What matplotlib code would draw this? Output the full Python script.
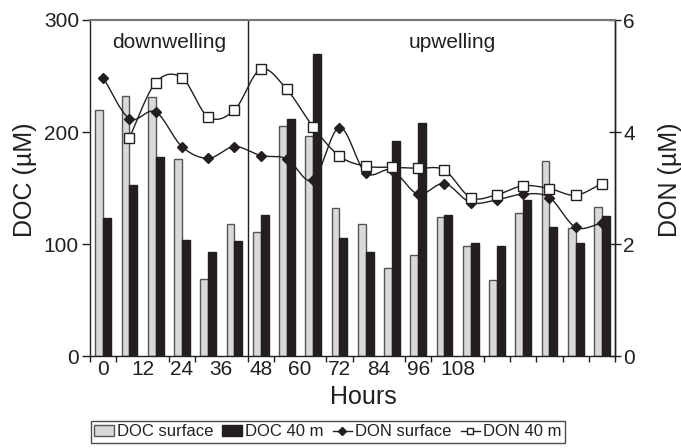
import numpy as np
import matplotlib
matplotlib.use("Agg")
import matplotlib.pyplot as plt
from matplotlib.lines import Line2D
from matplotlib.patches import Patch

hours = [0, 6, 12, 18, 24, 30, 36, 42, 48, 54, 60, 66, 72, 78, 84, 90, 96, 102, 108, 114]
doc_surface = [220, 232, 231, 176, 69, 118, 111, 205, 196, 132, 118, 79, 90, 124, 98, 68, 128, 174, 114, 133]
doc_40m = [123, 153, 178, 104, 93, 103, 126, 212, 270, 105, 93, 192, 208, 126, 101, 98, 139, 115, 101, 125]
don_surface = [4.97, 4.24, 4.36, 3.74, 3.53, 3.74, 3.58, 3.52, 3.14, 4.08, 3.27, 3.32, 2.89, 3.08, 2.74, 2.79, 2.89, 2.83, 2.30, 2.37]
don_40m = [np.nan, 3.90, 4.88, 4.97, 4.27, 4.39, 5.12, 4.76, 4.09, 3.57, 3.39, 3.37, 3.35, 3.32, 2.83, 2.88, 3.04, 2.99, 2.87, 3.08]
tick_hours = [0, 12, 24, 36, 48, 60, 72, 84, 96, 108]

INK = "#231f20"
plt.rcParams['font.family'] = ['Liberation Sans', 'DejaVu Sans']
plt.rcParams['text.color'] = INK


def smooth(x, y, n=16):
    # catmull-rom curve through the points, like excel "smoothed line"
    x = np.asarray(x, float)
    y = np.asarray(y, float)
    ok = ~np.isnan(y)
    x, y = x[ok], y[ok]
    px = np.concatenate([[2*x[0]-x[1]], x, [2*x[-1]-x[-2]]])
    py = np.concatenate([[2*y[0]-y[1]], y, [2*y[-1]-y[-2]]])
    t = np.linspace(0, 1, n, endpoint=False)
    ox, oy = [], []
    for i in range(1, len(px)-2):
        for p, o in ((px, ox), (py, oy)):
            p0, p1, p2, p3 = p[i-1:i+3]
            o.extend(0.5*(2*p1 + (-p0+p2)*t + (2*p0-5*p1+4*p2-p3)*t**2
                          + (-p0+3*p1-3*p2+p3)*t**3))
    ox.append(x[-1])
    oy.append(y[-1])
    return ox, oy


fig = plt.figure(figsize=(6.81, 4.48), dpi=100)
ax = fig.add_axes([90/681, 1-356/448, 525/681, 336/448])
ax2 = ax.twinx()

idx = np.arange(len(hours))
w = 0.3
ax.bar(idx - w/2, doc_surface, w, color="#d9d9d9", edgecolor="#555555", linewidth=1)
ax.bar(idx + w/2, doc_40m, w, color=INK, edgecolor=INK, linewidth=1)
ax.set_xlim(-0.5, len(hours) - 0.5)
ax.set_ylim(0, 300)
ax.set_yticks([0, 100, 200, 300])
ax.axvline(5.5, color=INK, lw=1)
ax.text(2.5, 280, "downwelling", ha="center", va="center", fontsize=15)
ax.text(13.3, 280, "upwelling", ha="center", va="center", fontsize=15)

sx, sy = smooth(idx, don_surface)
ax2.plot(sx, sy, color=INK, lw=1)
ax2.plot(idx, don_surface, ls="none", marker="D", ms=5, color=INK)
sx, sy = smooth(idx, don_40m)
ax2.plot(sx, sy, color=INK, lw=1)
ax2.plot(idx, don_40m, ls="none", marker="s", ms=6.5, mfc="white", mec=INK, mew=1)
ax2.set_ylim(0, 6)
ax2.set_yticks([0, 2, 4, 6])

# hour labels sit on their own spacing, tick marks on category edges
ax.set_xticks(np.array(tick_hours) / 8)
ax.set_xticklabels([str(h) for h in tick_hours])
ax.set_xticks(np.arange(-0.5, len(hours)), minor=True)
ax.tick_params(axis="x", which="major", length=0, labelsize=15, pad=3, colors=INK)
ax.tick_params(axis="x", which="minor", length=4, width=1, direction="out", color=INK)
ax.tick_params(axis="y", length=6, width=1, direction="out", labelsize=15, colors=INK, pad=2)
ax2.tick_params(axis="y", length=8, width=1, direction="inout", labelsize=15, colors=INK, pad=2)

for a in (ax, ax2):
    a.spines["top"].set_color("#777777")
    a.spines["top"].set_linewidth(1.5)
    for s in ("left", "right", "bottom"):
        a.spines[s].set_color(INK)
        a.spines[s].set_linewidth(1)
ax2.spines["left"].set_visible(False)
ax2.spines["bottom"].set_visible(False)

fig.text(25/681, 1-180/448, "DOC (µM)", rotation=90, ha="center", va="center", fontsize=18)
fig.text(670/681, 1-180/448, "DON (µM)", rotation=90, ha="center", va="center", fontsize=18)
fig.text(363/681, 1-397/448, "Hours", ha="center", va="center", fontsize=18)

handles = [
    Patch(facecolor="#d9d9d9", edgecolor="#555555", lw=1),
    Patch(facecolor=INK, edgecolor=INK),
    Line2D([], [], color=INK, lw=1, marker="D", ms=4),
    Line2D([], [], color=INK, lw=1, marker="s", ms=5, mfc="white", mec=INK),
]
labels = ["DOC surface", "DOC 40 m", "DON surface", "DON 40 m"]
leg = fig.legend(handles, labels, loc="upper left", bbox_to_anchor=(91/681, 1-421/448),
                 ncol=4, fontsize=12, frameon=True, fancybox=False,
                 handlelength=1.15, handleheight=0.6, handletextpad=0.2,
                 columnspacing=0.55, borderpad=0.2, borderaxespad=0)
leg.get_frame().set_edgecolor(INK)
leg.get_frame().set_linewidth(1)

fig.savefig("out.png", dpi=100)
